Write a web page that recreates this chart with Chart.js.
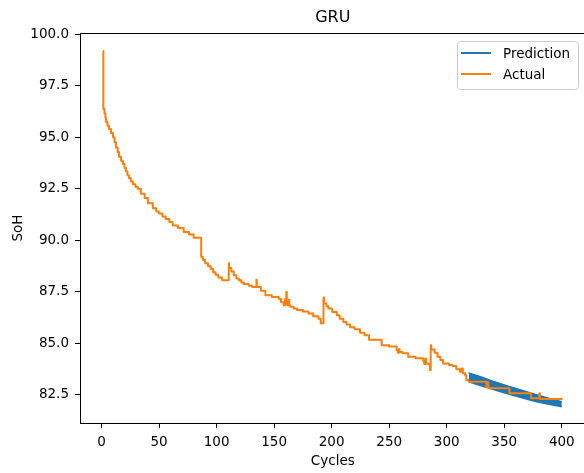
<!DOCTYPE html>
<html>
<head>
<meta charset="utf-8">
<script src="https://cdn.jsdelivr.net/npm/chart.js@4.4.1/dist/chart.umd.min.js"></script>
<style>
  html, body { margin: 0; padding: 0; background: #fff; overflow: hidden; }
  #wrap { width: 600px; height: 473px; }
</style>
</head>
<body>
<div id="wrap"><canvas id="sohChart" width="600" height="473"></canvas></div>
<script>
// actual SoH as (start cycle, level) steps
const actualCycles = [
  1.3, 1.6, 2.6, 3.4, 3.9, 5.2, 6.5, 8.2, 10.0, 11.3,
  12.6, 14.0, 15.2, 17.0, 18.6, 20.0, 21.2, 22.5, 23.8, 25.5,
  27.3, 29.5, 31.6, 34.2, 37.5, 40.3, 44.6, 47.5, 49.8, 53.0,
  55.8, 59.0, 61.9, 66.5, 71.4, 76.0, 80.1, 86.6, 88.0, 90.0,
  92.5, 94.8, 97.0, 99.1, 101.5, 104.9, 110.6, 110.9, 112.8, 115.0,
  117.2, 119.3, 121.5, 123.6, 128.0, 131.0, 134.6, 134.9, 138.5, 142.4,
  148.0, 154.0, 156.0, 158.3, 159.5, 160.3, 160.6, 161.0, 161.8, 162.5,
  163.2, 164.0, 167.0, 169.9, 175.0, 179.9, 184.0, 188.6, 190.5, 192.9,
  193.4, 195.5, 197.2, 200.5, 204.5, 207.0, 210.2, 213.0, 216.0, 220.0,
  224.7, 228.5, 232.5, 243.5, 250.0, 256.5, 257.5, 258.3, 259.0, 261.5,
  266.5, 273.0, 279.5, 280.5, 281.3, 282.2, 283.8, 285.5, 286.1, 286.6,
  289.5, 292.0, 294.5, 296.8, 302.0, 305.0, 308.4, 311.5, 313.0, 314.0,
  316.0, 317.1, 319.0, 334.4, 335.3, 336.2, 337.2, 354.5, 373.3, 380.5,
  381.0, 400.7
];
const actualSoh = [
  99.18, 96.37, 96.15, 95.94, 95.75, 95.55, 95.40, 95.20, 95.00, 94.75,
  94.50, 94.28, 94.05, 93.85, 93.70, 93.50, 93.35, 93.15, 93.02, 92.85,
  92.72, 92.60, 92.50, 92.25, 92.05, 91.80, 91.55, 91.40, 91.30, 91.15,
  91.03, 90.88, 90.72, 90.60, 90.40, 90.28, 90.12, 89.20, 89.05, 88.88,
  88.75, 88.62, 88.45, 88.33, 88.20, 88.06, 88.89, 88.65, 88.48, 88.30,
  88.15, 88.06, 87.95, 87.88, 87.80, 87.74, 88.09, 87.73, 87.55, 87.33,
  87.25, 87.17, 87.00, 86.85, 87.15, 86.90, 87.49, 87.10, 86.85, 87.10,
  86.85, 86.78, 86.69, 86.62, 86.55, 86.45, 86.32, 86.20, 85.98, 87.22,
  86.93, 86.80, 86.69, 86.52, 86.36, 86.20, 86.04, 85.92, 85.78, 85.68,
  85.52, 85.40, 85.18, 84.91, 84.85, 84.67, 84.55, 84.72, 84.58, 84.52,
  84.35, 84.28, 84.15, 84.00, 84.25, 84.02, 84.00, 83.70, 84.91, 84.70,
  84.55, 84.35, 84.20, 84.03, 83.95, 83.90, 83.75, 83.62, 83.78, 83.55,
  83.45, 83.22, 83.14, 82.88, 83.12, 82.85, 82.82, 82.58, 82.34, 82.58,
  82.30, 82.30
];

// prediction band (upper and lower edge of the blue trace)
const predCycles = [319, 330, 340, 350, 360, 370, 380, 390, 400];
const predUpper  = [83.57, 83.37, 83.17, 82.99, 82.82, 82.65, 82.48, 82.32, 82.17];
const predLower  = [83.14, 82.95, 82.78, 82.61, 82.45, 82.29, 82.15, 82.04, 81.93];

const xTicks = [0, 50, 100, 150, 200, 250, 300, 350, 400];
const yTicks = [82.5, 85.0, 87.5, 90.0, 92.5, 95.0, 97.5, 100.0];

const BLUE = '#1f77b4';
const ORANGE = '#ff7f0e';
const FONT = '"DejaVu Sans", sans-serif';

const toPoints = (xs, ys) => xs.map((x, i) => ({ x: x, y: ys[i] }));

// matplotlib style top spine
const topSpine = {
  id: 'topSpine',
  afterDraw(chart) {
    const a = chart.chartArea;
    const c = chart.ctx;
    c.save();
    c.strokeStyle = '#000';
    c.lineWidth = 1;
    c.beginPath();
    c.moveTo(a.left, a.top + 0.5);
    c.lineTo(a.right, a.top + 0.5);
    c.stroke();
    c.restore();
  }
};

// legend box in the upper right corner of the axes
const legendBox = {
  id: 'legendBox',
  afterDraw(chart) {
    const c = chart.ctx;
    const items = chart.data.datasets.filter(d => d.label);
    c.save();
    c.fillStyle = 'rgba(255,255,255,0.8)';
    c.strokeStyle = '#cccccc';
    c.lineWidth = 1;
    c.beginPath();
    c.roundRect(457.5, 41.5, 121, 48, 3);
    c.fill();
    c.stroke();
    items.forEach((d, i) => {
      const y = 53 + i * 21;
      c.strokeStyle = d.borderColor;
      c.lineWidth = 2;
      c.beginPath();
      c.moveTo(461, y);
      c.lineTo(491, y);
      c.stroke();
      c.fillStyle = '#000';
      c.font = '13.5px ' + FONT;
      c.textBaseline = 'middle';
      c.fillText(d.label, 503, y + 1);
    });
    c.restore();
  }
};

const ctx = document.getElementById('sohChart').getContext('2d');
const sohChart = new Chart(ctx, {
  type: 'line',
  data: {
    datasets: [
      {
        label: 'Prediction',
        data: toPoints(predCycles, predUpper),
        borderColor: BLUE,
        backgroundColor: BLUE,
        borderWidth: 1.5,
        pointRadius: 0,
        fill: '+1',
        order: 2
      },
      {
        label: '',
        data: toPoints(predCycles, predLower),
        borderColor: BLUE,
        backgroundColor: BLUE,
        borderWidth: 1.5,
        pointRadius: 0,
        fill: false,
        order: 2
      },
      {
        label: 'Actual',
        data: toPoints(actualCycles, actualSoh),
        borderColor: ORANGE,
        backgroundColor: ORANGE,
        borderWidth: 2,
        pointRadius: 0,
        stepped: true,
        borderJoinStyle: 'round',
        fill: false,
        order: 1
      }
    ]
  },
  options: {
    responsive: false,
    animation: false,
    layout: { padding: { left: 0, right: 14.4, top: 0, bottom: 0 } },
    plugins: {
      legend: { display: false },
      tooltip: { enabled: false },
      title: {
        display: true,
        text: 'GRU',
        fullSize: false,
        color: '#000',
        font: { family: FONT, size: 16, weight: 'normal' },
        padding: { top: 8.5, bottom: 5.3 }
      }
    },
    scales: {
      x: {
        type: 'linear',
        min: -18.7,
        max: 420.7,
        afterBuildTicks: scale => { scale.ticks = xTicks.map(v => ({ value: v })); },
        afterFit: scale => { scale.height = 50; },
        grid: { drawOnChartArea: false, drawTicks: true, tickLength: 5, color: '#000' },
        border: { display: true, color: '#000', width: 1 },
        ticks: {
          color: '#000',
          padding: 6,
          maxRotation: 0,
          font: { family: FONT, size: 13.5 },
          callback: v => String(v)
        },
        title: {
          display: true,
          text: 'Cycles',
          color: '#000',
          font: { family: FONT, size: 13.5 },
          padding: { top: 0, bottom: 3 }
        }
      },
      y: {
        type: 'linear',
        min: 81.14,
        max: 100.05,
        afterBuildTicks: scale => { scale.ticks = yTicks.map(v => ({ value: v })); },
        afterFit: scale => { scale.width = 80; },
        grid: { drawOnChartArea: false, drawTicks: true, tickLength: 5, color: '#000' },
        border: { display: true, color: '#000', width: 1 },
        ticks: {
          color: '#000',
          padding: 6,
          font: { family: FONT, size: 13.5 },
          callback: v => Number(v).toFixed(1)
        },
        title: {
          display: true,
          text: 'SoH',
          color: '#000',
          font: { family: FONT, size: 13.5 },
          padding: { top: 10, bottom: 0 }
        }
      }
    }
  },
  plugins: [topSpine, legendBox]
});
</script>
</body>
</html>
